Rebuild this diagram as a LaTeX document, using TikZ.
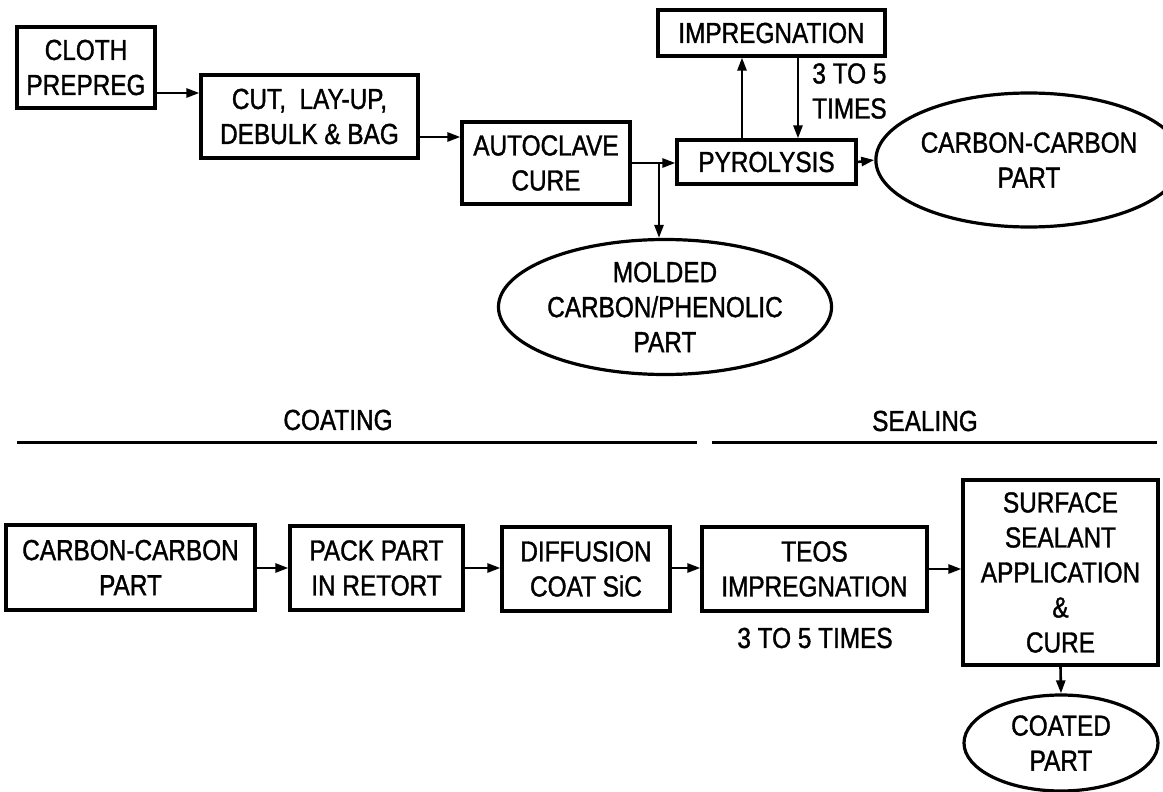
\documentclass[tikz,border=0pt]{standalone}
\usepackage{fontspec}
\setmainfont{Liberation Sans}[FakeStretch=0.84,FakeBold=1.2]
\usetikzlibrary{arrows.meta,shapes.geometric}
\newcommand{\chartfont}{\fontsize{29}{35}\selectfont}
\begin{document}
\begin{tikzpicture}[x=1pt,y=-1pt,
  box/.style={draw, line width=3.2pt, align=center, inner sep=0pt, font=\chartfont},
  oval/.style={ellipse, draw, line width=3.2pt, align=center, inner sep=0pt, font=\chartfont},
  flow/.style={line width=2.6pt, -{Triangle[length=13pt,width=9pt]}},
  note/.style={align=center, inner sep=0pt, font=\chartfont}]
  \useasboundingbox (0,0) rectangle (1163,792);
  % forming
  \node[box, minimum width=138pt, minimum height=81pt] (cloth) at (86,67.5) {CLOTH\\PREPREG};
  \node[box, minimum width=217pt, minimum height=83pt] (cut) at (309.5,116.5) {CUT,\ \ LAY-UP,\\DEBULK \& BAG};
  \node[box, minimum width=168pt, minimum height=82pt] (cure) at (546,163) {AUTOCLAVE\\CURE};
  \node[box, minimum width=179pt, minimum height=44pt] (pyro) at (766.5,162) {PYROLYSIS};
  \node[box, minimum width=227pt, minimum height=46pt] (impreg) at (771.5,33) {IMPREGNATION};
  \node[note, anchor=west] (times) at (812,91) {3 TO 5\\TIMES};
  \node[oval, minimum width=266pt, minimum height=134pt] (ccpart) at (1029,160) {CARBON-CARBON\\PART};
  \node[oval, minimum width=262pt, minimum height=135pt] (molded) at (665,307) {MOLDED\\CARBON/PHENOLIC\\PART};
  \coordinate (r1) at (0,93);
  \coordinate (r2) at (0,137);
  \coordinate (fork) at (659,163);
  \coordinate (up) at (742,0);
  \coordinate (dn) at (798,0);
  \draw[flow] (cloth.east |- r1) -- (cut.west |- r1);
  \draw[flow] (cut.east |- r2) -- (cure.west |- r2);
  \draw[flow] (cure.east) -- (pyro.west |- cure.east);
  \draw[flow] (fork) -- (fork |- molded.north);
  \draw[flow] (pyro.north -| up) -- (impreg.south -| up);
  \draw[flow] (impreg.south -| dn) -- (pyro.north -| dn);
  \draw[flow] (pyro.east) -- (ccpart.west);
  % coating and sealing
  \node[note] (coating) at (338,420) {COATING};
  \node[note] (sealing) at (925,421) {SEALING};
  \draw[line width=3pt] (17,442) -- (697,442);
  \draw[line width=3pt] (712,442) -- (1157,442);
  \node[box, minimum width=249pt, minimum height=85pt] (ccbox) at (130.5,567.5) {CARBON-CARBON\\PART};
  \node[box, minimum width=173pt, minimum height=84pt] (pack) at (376.5,568) {PACK PART\\IN RETORT};
  \node[box, minimum width=168pt, minimum height=84pt] (diff) at (586,569) {DIFFUSION\\COAT SiC};
  \node[box, minimum width=225pt, minimum height=84pt] (teos) at (814.5,569) {TEOS\\IMPREGNATION};
  \node[note] (teostimes) at (815,638) {3 TO 5 TIMES};
  \node[box, minimum width=195pt, minimum height=185pt] (seal) at (1060.5,572.5) {SURFACE\\SEALANT\\APPLICATION\\\&\\CURE};
  \node[oval, minimum width=194pt, minimum height=96pt] (coated) at (1061,743) {COATED\\PART};
  \coordinate (r3) at (0,568);
  \draw[flow] (ccbox.east |- r3) -- (pack.west |- r3);
  \draw[flow] (pack.east |- r3) -- (diff.west |- r3);
  \draw[flow] (diff.east |- r3) -- (teos.west |- r3);
  \draw[flow] (teos.east) -- (seal.west |- teos.east);
  \draw[flow] (seal.south) -- (coated.north);
\end{tikzpicture}
\end{document}
